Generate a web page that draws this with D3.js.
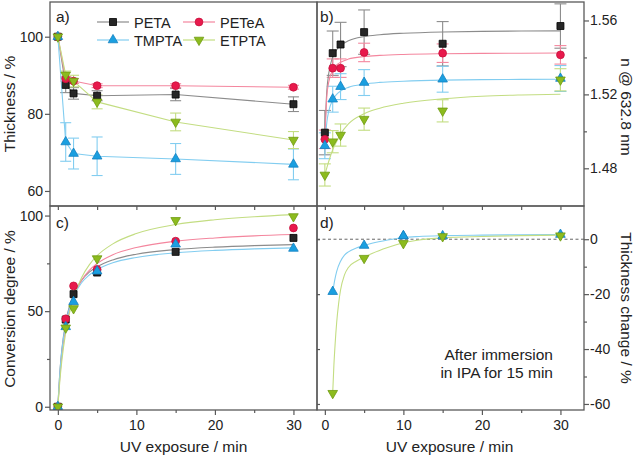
<!DOCTYPE html>
<html><head><meta charset="utf-8">
<script src="https://cdn.jsdelivr.net/npm/d3@7"></script>
<style>
body{margin:0;background:#fff;}
svg{display:block;font-family:"Liberation Sans",Arial,sans-serif;}
</style></head><body>
<svg id="chart" width="640" height="458"></svg>
<script>
// ---------------- data ----------------
const seriesNames = ["PETA", "PETeA", "TMPTA", "ETPTA"];
const times = [0, 1, 2, 5, 15, 30];

// a) thickness (%)
const thickPETA  = [100, 87.5, 85.3, 84.7, 85.0, 82.5];
const thickPETeA = [100, 89.1, 88.5, 87.3, 87.3, 86.9];
const thickTMPTA = [100, 72.7, 69.7, 69.0, 68.3, 66.9];
const thickETPTA = [100, 90.1, 88.5, 83.1, 77.9, 73.2];
const thickErrPETA  = [0, 2.0, 1.5, 1.3, 1.6, 1.9];
const thickErrPETeA = [0, 0.6, 0.6, 0.5, 0.5, 0.5];
const thickErrTMPTA = [0, 5.0, 4.0, 5.0, 4.0, 4.0];
const thickErrETPTA = [0, 1.0, 1.5, 1.8, 2.3, 2.2];

// b) refractive index n @ 632.8 nm
const nPETA  = [1.4993, 1.5423, 1.5470, 1.5537, 1.5474, 1.5570];
const nPETeA = [1.4957, 1.5342, 1.5342, 1.5427, 1.5423, 1.5414];
const nTMPTA = [1.4922, 1.5174, 1.5242, 1.5264, 1.5282, 1.5286];
const nETPTA = [1.4764, 1.4944, 1.4980, 1.5066, 1.5111, 1.5279];
const nErrPETA  = [0.012, 0.012, 0.012, 0.012, 0.012, 0.012];
const nErrPETeA = [0.005, 0.005, 0.005, 0.005, 0.005, 0.005];
const nErrTMPTA = [0.007, 0.007, 0.007, 0.007, 0.007, 0.007];
const nErrETPTA = [0.006, 0.006, 0.006, 0.006, 0.006, 0.006];
// fitted curves
const fitXb = [0, 0.25, 0.5, 1, 1.5, 2, 3, 5, 7, 10, 15, 20, 25, 30];
const nFitPETA  = [1.4990, 1.5219, 1.5315, 1.5402, 1.5442, 1.5465, 1.5490, 1.5513, 1.5523, 1.5531, 1.5538, 1.5541, 1.5543, 1.5544];
const nFitPETeA = [1.4960, 1.5189, 1.5268, 1.5331, 1.5359, 1.5374, 1.5391, 1.5405, 1.5411, 1.5416, 1.5420, 1.5422, 1.5423, 1.5424];
const nFitTMPTA = [1.4920, 1.5048, 1.5110, 1.5170, 1.5200, 1.5218, 1.5238, 1.5256, 1.5265, 1.5271, 1.5277, 1.5280, 1.5281, 1.5282];
const nFitETPTA = [1.4764, 1.4802, 1.4838, 1.4900, 1.4945, 1.4985, 1.5040, 1.5095, 1.5125, 1.5152, 1.5176, 1.5190, 1.5197, 1.5201];

// c) conversion degree (%)
const convPETA  = [0, 45.6, 58.9, 70.2, 81.0, 88.3];
const convPETeA = [0, 46.0, 63.2, 71.8, 86.6, 93.5];
const convTMPTA = [0, 41.8, 54.9, 70.9, 85.0, 82.8];
const convETPTA = [0, 41.3, 51.4, 77.5, 97.5, 99.5];
const fitXc = [0, 0.25, 0.5, 1, 1.5, 2, 3, 4, 5, 7, 10, 15, 20, 25, 30];
const convFitPETA  = [0, 17.8, 29.6, 44.2, 53.0, 58.8, 66.0, 70.4, 73.2, 76.8, 79.8, 82.2, 83.5, 84.3, 84.8];
const convFitPETeA = [0, 15.4, 26.5, 41.4, 50.8, 57.4, 66.0, 71.3, 74.9, 79.5, 83.3, 86.6, 88.3, 89.4, 90.1];
const convFitTMPTA = [0, 17.4, 29.0, 43.3, 51.9, 57.6, 64.7, 68.9, 71.7, 75.3, 78.1, 80.5, 81.8, 82.6, 83.1];
const convFitETPTA = [0, 13.4, 23.8, 38.9, 49.4, 57.0, 67.4, 74.2, 79.0, 85.2, 90.6, 95.3, 97.8, 99.4, 100.5];

// d) thickness change after IPA immersion (%)
const dTimes = [1, 5, 10, 15, 30];
const changeTMPTA = [-19.1, -2.3, 1.2, 1.2, 1.7];
const changeETPTA = [-56.1, -6.9, -1.5, 1.0, 1.3];
const fitXdT = [1, 1.25, 1.5, 2, 2.5, 3, 4, 5, 6, 8, 10, 12, 15, 20, 25, 30];
const changeFitTMPTA = [-19.3, -15, -11.8, -8, -5.8, -4.6, -3.2, -2.3, -1.5, -0.3, 0.6, 1.0, 1.3, 1.5, 1.6, 1.7];
const fitXdE = [1, 1.15, 1.3, 1.5, 1.75, 2, 2.5, 3, 4, 5, 6, 8, 10, 12, 15, 20, 25, 30];
const changeFitETPTA = [-56, -46, -38.5, -30.5, -23.5, -18.5, -13, -10.3, -8.0, -6.6, -5.2, -3.0, -1.3, -0.3, 0.5, 1.0, 1.3, 1.5];

// tick values
const xMajor = [0, 10, 20, 30], xMinor = [5, 15, 25];
const aTicks = [60, 80, 100];
const bTicks = [1.48, 1.52, 1.56], bMinor = [1.50, 1.54];
const cTicks = [0, 50, 100], cMinor = [25, 75];
const dTicks = [0, -20, -40, -60], dMinor = [-10, -30, -50];

// ---------------- styles ----------------
const style = {
  PETA:  {sym: d3.symbolSquare,   size: 49, rot: 0,   fill: "#262626", stroke: "#000000", line: "#8c8c8c"},
  PETeA: {sym: d3.symbolCircle,   size: 48, rot: 0,   fill: "#e8194c", stroke: "#c8103c", line: "#f4869e"},
  TMPTA: {sym: d3.symbolTriangle, size: 40, rot: 0,   fill: "#1a9fe0", stroke: "#1380c0", line: "#82cdf0"},
  ETPTA: {sym: d3.symbolTriangle, size: 40, rot: 180, fill: "#8cbb1e", stroke: "#6f9a10", line: "#c3dd82"}
};
const FONT_TICK = "14px", FONT_LAB = "15.5px";
const frameColor = "#595959", textColor = "#222";

// ---------------- layout ----------------
const L = 50, M = 317, R = 584, T = 2, Mid = 206, B = 410;
const xA = d3.scaleLinear().domain([-1, 33]).range([L, M]);
const xB = d3.scaleLinear().domain([-1, 33]).range([M, R]);
const yA = d3.scaleLinear().domain([56.1, 109]).range([Mid, T]);
const yB = d3.scaleLinear().domain([1.4596, 1.570]).range([Mid, T]);
const yC = d3.scaleLinear().domain([-1.7, 105]).range([B, Mid]);
const yD = d3.scaleLinear().domain([-62.2, 12.1]).range([B, Mid]);

const svg = d3.select("#chart");
const defs = svg.append("defs");
function clip(id, x0, y0, x1, y1) {
  defs.append("clipPath").attr("id", id).append("rect")
    .attr("x", x0).attr("y", y0).attr("width", x1 - x0).attr("height", y1 - y0);
  return svg.append("g").attr("clip-path", `url(#${id})`);
}
const gA = clip("ca", L, T, M, Mid);
const gB = clip("cb", M, T, R, Mid);
const gC = clip("cc", L, Mid, M, B);
const gD = clip("cd", M, Mid, R, B);

function marker(g, name, x, y) {
  const s = style[name];
  g.append("path")
    .attr("d", d3.symbol().type(s.sym).size(s.size)())
    .attr("transform", `translate(${x},${y}) rotate(${s.rot})`)
    .attr("fill", s.fill).attr("stroke", s.stroke).attr("stroke-width", 0.8);
}
function errBars(g, name, xs, ys, es, xS, yS, cap) {
  const s = style[name];
  xs.forEach((t, i) => {
    if (!es[i]) return;
    const x = xS(t), y1 = yS(ys[i] - es[i]), y2 = yS(ys[i] + es[i]);
    g.append("line").attr("x1", x).attr("x2", x).attr("y1", y1).attr("y2", y2)
      .attr("stroke", s.line).attr("stroke-width", 1.1);
    [y1, y2].forEach(yy => g.append("line").attr("x1", x - cap).attr("x2", x + cap)
      .attr("y1", yy).attr("y2", yy).attr("stroke", s.line).attr("stroke-width", 1.1));
  });
}
function curve(g, name, xs, ys, xS, yS, kind) {
  const line = d3.line().x((d, i) => xS(xs[i])).y(d => yS(d))
    .curve(kind === "straight" ? d3.curveLinear : d3.curveMonotoneX);
  g.append("path").attr("d", line(ys)).attr("fill", "none")
    .attr("stroke", style[name].line).attr("stroke-width", 1.1);
}

// ---------------- panel a ----------------
const aVals = {PETA: thickPETA, PETeA: thickPETeA, TMPTA: thickTMPTA, ETPTA: thickETPTA};
const aErr = {PETA: thickErrPETA, PETeA: thickErrPETeA, TMPTA: thickErrTMPTA, ETPTA: thickErrETPTA};
seriesNames.forEach(n => errBars(gA, n, times, aVals[n], aErr[n], xA, yA, 5.5));
seriesNames.forEach(n => curve(gA, n, times, aVals[n], xA, yA, "straight"));
seriesNames.forEach(n => times.forEach((t, i) => marker(gA, n, xA(t), yA(aVals[n][i]))));

// ---------------- panel b ----------------
const bVals = {PETA: nPETA, PETeA: nPETeA, TMPTA: nTMPTA, ETPTA: nETPTA};
const bErr = {PETA: nErrPETA, PETeA: nErrPETeA, TMPTA: nErrTMPTA, ETPTA: nErrETPTA};
const bFit = {PETA: nFitPETA, PETeA: nFitPETeA, TMPTA: nFitTMPTA, ETPTA: nFitETPTA};
seriesNames.forEach(n => errBars(gB, n, times, bVals[n], bErr[n], xB, yB, 6));
seriesNames.forEach(n => curve(gB, n, fitXb, bFit[n], xB, yB));
seriesNames.forEach(n => times.forEach((t, i) => marker(gB, n, xB(t), yB(bVals[n][i]))));

// ---------------- panel c ----------------
const cVals = {PETA: convPETA, PETeA: convPETeA, TMPTA: convTMPTA, ETPTA: convETPTA};
const cFit = {PETA: convFitPETA, PETeA: convFitPETeA, TMPTA: convFitTMPTA, ETPTA: convFitETPTA};
seriesNames.forEach(n => curve(gC, n, fitXc, cFit[n], xA, yC));
seriesNames.forEach(n => times.forEach((t, i) => marker(gC, n, xA(t), yC(cVals[n][i]))));

// ---------------- panel d ----------------
gD.append("line").attr("x1", M).attr("x2", R).attr("y1", yD(0)).attr("y2", yD(0))
  .attr("stroke", "#666").attr("stroke-width", 1).attr("stroke-dasharray", "3,2.5");
curve(gD, "TMPTA", fitXdT, changeFitTMPTA, xB, yD);
curve(gD, "ETPTA", fitXdE, changeFitETPTA, xB, yD);
dTimes.forEach((t, i) => marker(gD, "TMPTA", xB(t), yD(changeTMPTA[i])));
dTimes.forEach((t, i) => { if (t !== 10) marker(gD, "ETPTA", xB(t), yD(changeETPTA[i])); });
marker(gD, "ETPTA", xB(10), yD(changeETPTA[2]));
marker(gD, "TMPTA", xB(10), yD(changeTMPTA[2]));

// ---------------- axes ----------------
function styleAxis(g, labels) {
  g.select(".domain").remove();
  g.selectAll(".tick line").attr("stroke", frameColor).attr("stroke-width", 1.2);
  g.selectAll(".tick text").attr("fill", textColor).style("font-size", FONT_TICK)
    .style("font-family", "'Liberation Sans',Arial,sans-serif");
  if (!labels) g.selectAll(".tick text").remove();
}
function ax(axis, tx, ty, labels) {
  const g = svg.append("g").attr("transform", `translate(${tx},${ty})`).call(axis);
  styleAxis(g, labels);
  return g;
}
// left axes
ax(d3.axisLeft(yA).tickValues(aTicks).tickSize(5).tickPadding(2).tickFormat(d3.format("d")), L, 0, true);
ax(d3.axisLeft(yC).tickValues(cTicks).tickSize(5).tickPadding(2).tickFormat(d3.format("d")), L, 0, true);
ax(d3.axisLeft(yC).tickValues(cMinor).tickSize(3), L, 0, false);
// right axes
ax(d3.axisRight(yB).tickValues(bTicks).tickSize(5).tickPadding(1).tickFormat(d3.format(".2f")), R, 0, true);
ax(d3.axisRight(yB).tickValues(bMinor).tickSize(3), R, 0, false);
ax(d3.axisRight(yD).tickValues(dTicks).tickSize(5).tickPadding(1).tickFormat(d => d < 0 ? "-" + Math.abs(d) : d), R, 0, true);
ax(d3.axisRight(yD).tickValues(dMinor).tickSize(3), R, 0, false);
ax(d3.axisRight(yD).tickValues(dTicks).tickSize(3), M, 0, false);
// bottom axes (labelled)
[xA, xB].forEach(xs => {
  ax(d3.axisBottom(xs).tickValues(xMajor).tickSize(5).tickPadding(5).tickFormat(d3.format("d")), 0, B, true);
  ax(d3.axisBottom(xs).tickValues(xMinor).tickSize(3), 0, B, false);
  ax(d3.axisBottom(xs).tickValues(xMajor.concat(xMinor)).tickSize(4), 0, Mid, false);
});

// frames
[[L, T, M, Mid], [M, T, R, Mid], [L, Mid, M, B], [M, Mid, R, B]].forEach(([x0, y0, x1, y1]) =>
  svg.append("rect").attr("x", x0).attr("y", y0).attr("width", x1 - x0).attr("height", y1 - y0)
    .attr("fill", "none").attr("stroke", frameColor).attr("stroke-width", 1.3));

// ---------------- text ----------------
function txt(x, y, s, opts = {}) {
  const t = svg.append("text").attr("x", x).attr("y", y).text(s)
    .attr("fill", textColor).style("font-size", opts.size || FONT_LAB)
    .attr("text-anchor", opts.anchor || "start");
  if (opts.rot) t.attr("transform", `rotate(${opts.rot},${x},${y})`);
  return t;
}
txt(56, 22, "a)"); txt(320, 22, "b)"); txt(56, 228, "c)"); txt(320, 228, "d)");
txt(15, 104, "Thickness / %", {anchor: "middle", rot: -90});
txt(15, 309, "Conversion degree / %", {anchor: "middle", rot: -90});
txt(621, 107, "n @ 632.8 nm", {anchor: "middle", rot: 90});
txt(621, 308, "Thickness change / %", {anchor: "middle", rot: 90});
txt((L + M) / 2 + 0, 452, "UV exposure / min", {anchor: "middle"});
txt((M + R) / 2 - 1, 452, "UV exposure / min", {anchor: "middle"});
txt(553, 360, "After immersion", {anchor: "end"});
txt(553, 378, "in IPA for 15 min", {anchor: "end"});

// legend
const legPos = {PETA: [97, 22], PETeA: [183, 22], TMPTA: [97, 40], ETPTA: [183, 40]};
seriesNames.forEach(n => {
  const [lx, ly] = legPos[n];
  svg.append("line").attr("x1", lx).attr("x2", lx + 32).attr("y1", ly).attr("y2", ly)
    .attr("stroke", style[n].line).attr("stroke-width", 1.2);
  marker(svg, n, lx + 16, ly);
  txt(lx + 37, ly + 5.5, n, {size: "14.5px"});
});
</script>
</body></html>
